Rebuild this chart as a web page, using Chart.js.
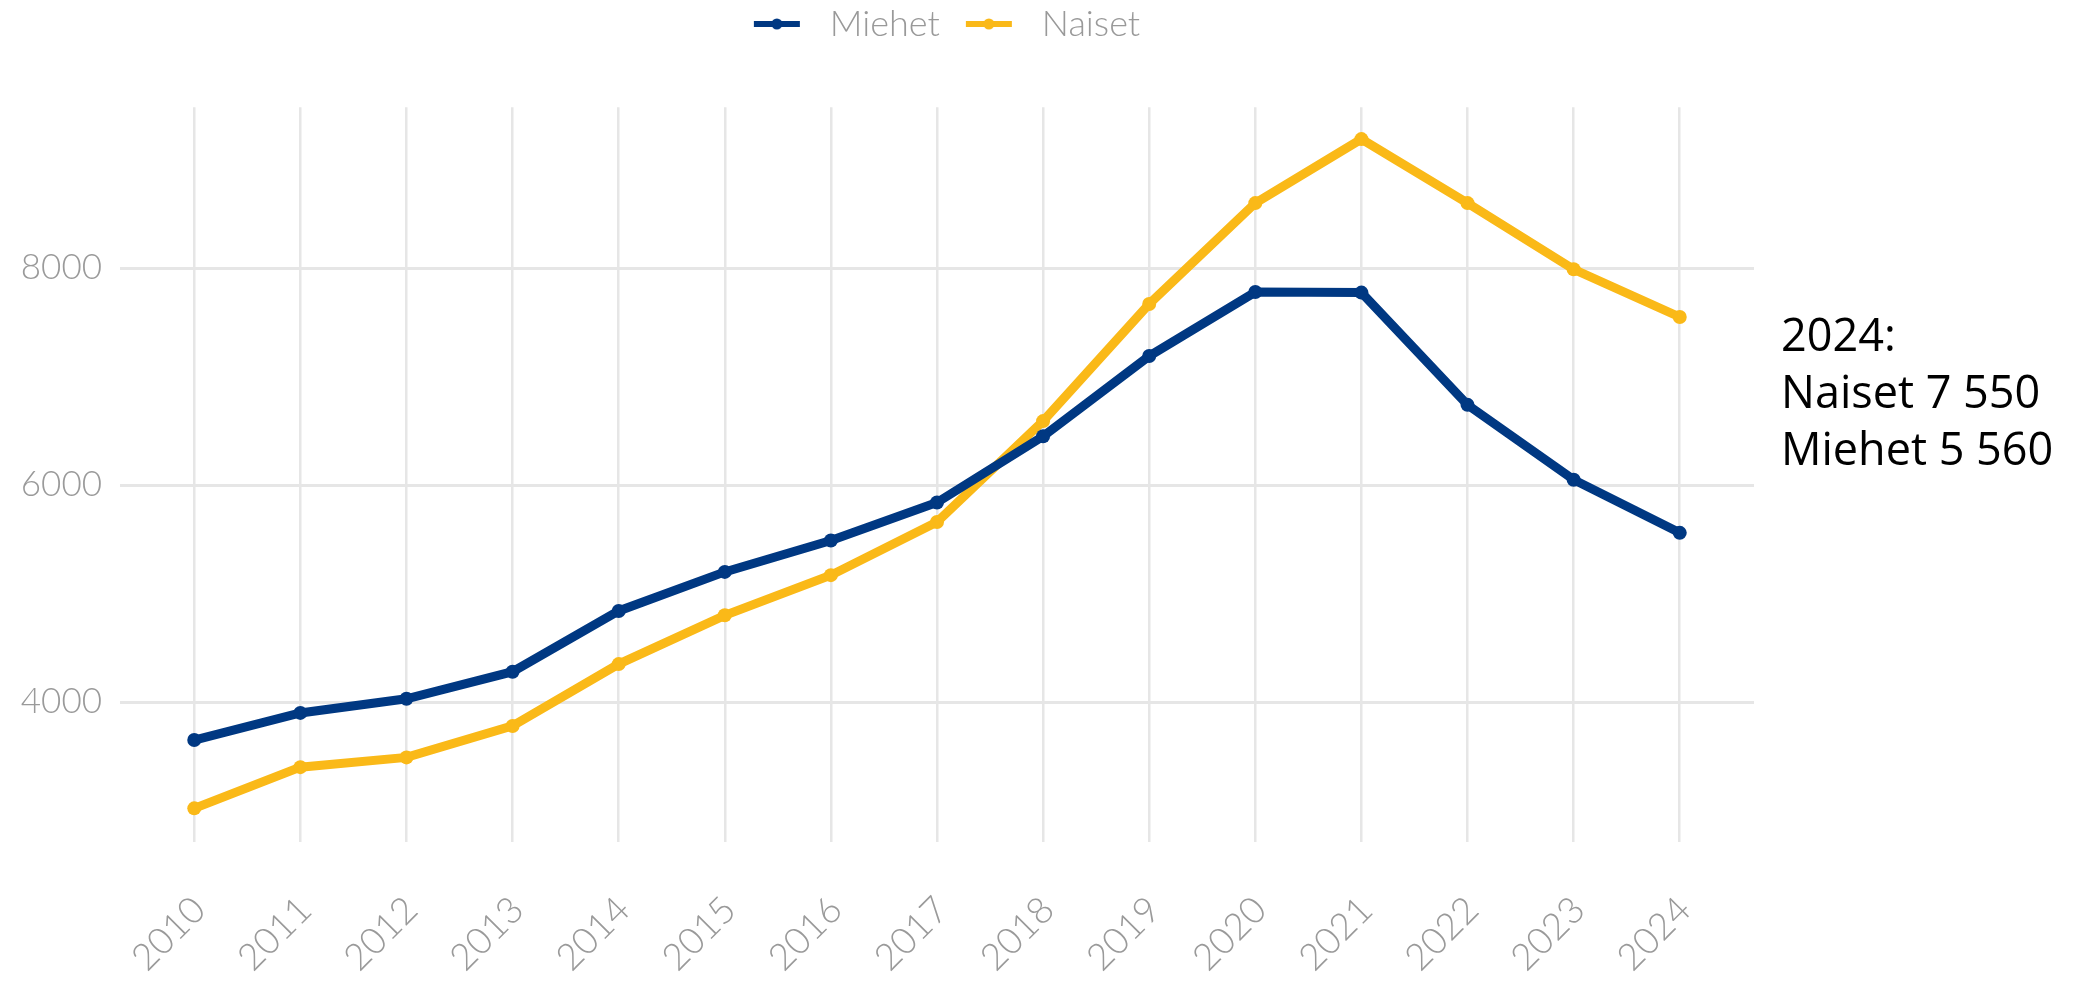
<!DOCTYPE html>
<html>
<head>
<meta charset="utf-8">
<script src="https://cdn.jsdelivr.net/npm/chart.js@4.4.1/dist/chart.umd.min.js"></script>
<style>
  html, body { margin: 0; padding: 0; background: #fff; }
  #wrap { width: 2077px; height: 983px; }
</style>
</head>
<body>
<div id="wrap"><canvas id="myChart"></canvas></div>
<script>
// data
var years = [2010, 2011, 2012, 2013, 2014, 2015, 2016, 2017, 2018, 2019, 2020, 2021, 2022, 2023, 2024];
var miehet = [3650, 3900, 4030, 4280, 4840, 5200, 5490, 5840, 6450, 7190, 7780, 7775, 6740, 6050, 5560];
var naiset = [3020, 3400, 3490, 3780, 4350, 4800, 5170, 5660, 6590, 7670, 8600, 9190, 8600, 7990, 7550];
var yTicks = [4000, 6000, 8000];
var note = ['2024:', 'Naiset 7 550', 'Miehet 5 560'];

var blue = 'rgb(0, 56, 130)';
var yellow = 'rgb(250, 185, 24)';
var gridColor = '#e6e6e6';
var tickColor = '#9a9a9a';

// legend marker: short line with a dot, drawn off to the left part of the box
function marker(color) {
  var c = document.createElement('canvas');
  c.width = 78; c.height = 14;
  var g = c.getContext('2d');
  g.strokeStyle = color;
  g.lineWidth = 6;
  g.beginPath(); g.moveTo(20, 7); g.lineTo(66, 7); g.stroke();
  g.fillStyle = color;
  g.beginPath(); g.arc(43, 7, 5.5, 0, Math.PI * 2); g.fill();
  return c;
}
var markers = [marker(blue), marker(yellow)];

function pts(vals) {
  return years.map(function (y, i) { return { x: y, y: vals[i] }; });
}

var notePlugin = {
  id: 'note',
  afterDraw: function (chart) {
    var ctx = chart.ctx, area = chart.chartArea;
    ctx.save();
    ctx.font = '45px "Open Sans"';
    ctx.fillStyle = '#000';
    ctx.textAlign = 'left';
    ctx.textBaseline = 'alphabetic';
    note.forEach(function (t, i) {
      ctx.fillText(t, area.right + 27, area.top + 244 + i * 57);
    });
    ctx.restore();
  }
};

var ctx = document.getElementById('myChart').getContext('2d');
var myChart = new Chart(ctx, {
  type: 'line',
  data: {
    datasets: [{
      label: 'Miehet',
      data: pts(miehet),
      borderColor: blue,
      backgroundColor: blue,
      borderWidth: 9,
      pointRadius: 7,
      pointBorderWidth: 0,
      pointBackgroundColor: blue,
      tension: 0
    }, {
      label: 'Naiset',
      data: pts(naiset),
      borderColor: yellow,
      backgroundColor: yellow,
      borderWidth: 9,
      pointRadius: 7,
      pointBorderWidth: 0,
      pointBackgroundColor: yellow,
      tension: 0
    }]
  },
  options: {
    responsive: true,
    maintainAspectRatio: false,
    animation: false,
    layout: { padding: { left: 0, right: 323, top: 0, bottom: 0 } },
    scales: {
      x: {
        type: 'linear',
        min: 2009.30,
        max: 2024.70,
        afterBuildTicks: function (scale) {
          scale.ticks = years.map(function (y) { return { value: y }; });
        },
        afterFit: function (scale) { scale.height = 141; },
        grid: { color: gridColor, lineWidth: 2.5, drawTicks: false },
        border: { display: false },
        ticks: {
          autoSkip: false,
          minRotation: 45,
          maxRotation: 45,
          padding: 46,
          labelOffset: 5,
          color: tickColor,
          font: { family: 'Lato', size: 37, weight: 300 },
          callback: function (v) { return String(v); }
        }
      },
      y: {
        min: 2710,
        max: 9484,
        afterBuildTicks: function (scale) {
          scale.ticks = yTicks.map(function (v) { return { value: v }; });
        },
        afterFit: function (scale) { scale.width = 120; },
        grid: { color: gridColor, lineWidth: 3, drawTicks: false },
        border: { display: false },
        ticks: {
          padding: 18,
          color: tickColor,
          font: { family: 'Lato', size: 35, weight: 300 },
          callback: function (v) { return String(v); }
        }
      }
    },
    plugins: {
      legend: {
        position: 'top',
        fullSize: false,
        labels: {
          usePointStyle: true,
          pointStyleWidth: 78,
          padding: 6,
          color: '#999',
          font: { family: 'Lato', size: 36, weight: 300 },
          generateLabels: function (chart) {
            var items = Chart.defaults.plugins.legend.labels.generateLabels(chart);
            items.forEach(function (it, i) { it.pointStyle = markers[i]; });
            return items;
          }
        }
      },
      subtitle: {
        display: true,
        text: ' ',
        position: 'top',
        fullSize: false,
        weight: 500,
        font: { size: 1 },
        padding: { top: 54, bottom: 0 }
      },
      tooltip: { enabled: false }
    }
  },
  plugins: [notePlugin]
});
</script>
</body>
</html>
